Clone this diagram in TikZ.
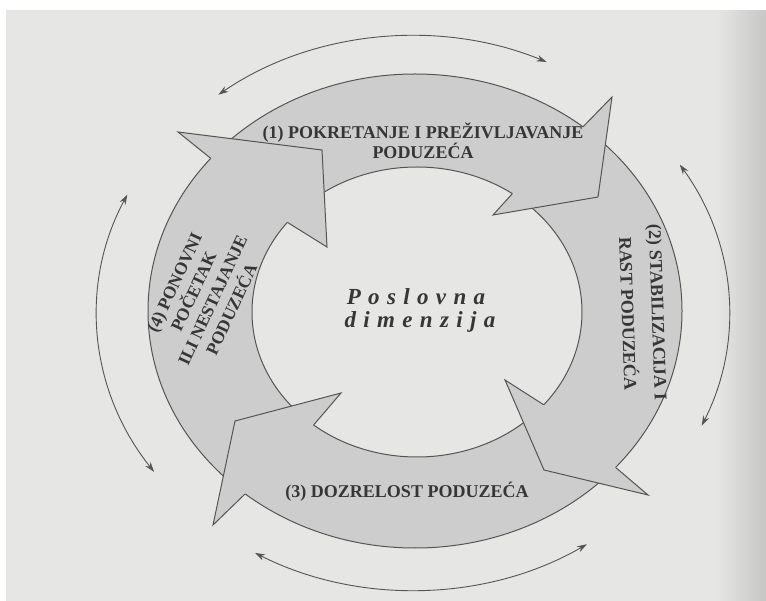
\documentclass[tikz,border=0pt]{standalone}
\usepackage{fontspec}
\setmainfont{Liberation Serif}
\usetikzlibrary{arrows.meta}
\definecolor{pagec}{HTML}{E6E6E4}
\definecolor{ringc}{HTML}{CDCDCD}
\definecolor{linec}{HTML}{555555}
\definecolor{textc}{HTML}{363636}
\definecolor{edgec}{HTML}{C6C6C6}
\begin{document}
\begin{tikzpicture}[x=1pt,y=-1pt,
  ringline/.style={draw=linec, line width=1pt},
  headline/.style={draw=linec, line width=1pt, line join=miter},
  phase/.style={text=textc, align=center, inner sep=0pt},
  cycarrow/.style={draw=linec, line width=0.9pt, {Stealth[length=10pt,width=6.5pt]}-{Stealth[length=10pt,width=6.5pt]}},
  centertext/.style={text=textc, inner sep=0pt, font=\fontsize{23}{25}\selectfont\bfseries\itshape\addfontfeature{LetterSpace=32}}
]
\useasboundingbox (0,0) rectangle (766,601);
\fill[white] (0,0) rectangle (766,601);
\fill[pagec] (6,10) rectangle (766,601);
\foreach \i in {0,...,24} {
  \pgfmathsetmacro{\pc}{\i*4}
  \fill[edgec!\pc!pagec] ({716+2*\i},10) rectangle ({718.5+2*\i},601);
}

% ring
\coordinate (oc) at (415,311);
\coordinate (ic) at (417,312);
\fill[ringc, even odd rule] (oc) ellipse [x radius=267pt, y radius=237pt] (ic) ellipse [x radius=165pt, y radius=145pt];
\draw[ringline] (oc) ellipse [x radius=267pt, y radius=237pt];
\draw[ringline] (ic) ellipse [x radius=165pt, y radius=145pt];

% head 1 (top right)
\coordinate (h1a) at ({415+267*cos(-51)},{311+237*sin(-51)});
\coordinate (h1b) at (612,97);
\coordinate (h1c) at (598,197);
\coordinate (h1d) at (493,215);
\coordinate (h1e) at ({417+165*cos(-54.7)},{312+145*sin(-54.7)});
\fill[ringc] (h1a)--(h1b)--(h1c)--(h1d)--(h1e)--cycle;
\draw[headline] (h1a)--(h1b)--(h1c)--(h1d)--(h1e);

% head 2 (bottom right)
\coordinate (h2a) at ({415+267*cos(41.3)},{311+237*sin(41.3)});
\coordinate (h2b) at (648,495);
\coordinate (h2c) at (544,470);
\coordinate (h2d) at (505,380);
\coordinate (h2e) at ({417+165*cos(39.8)},{312+145*sin(39.8)});
\fill[ringc] (h2a)--(h2b)--(h2c)--(h2d)--(h2e)--cycle;
\draw[headline] (h2a)--(h2b)--(h2c)--(h2d)--(h2e);

% head 3 (bottom left)
\coordinate (h3a) at ({415+267*cos(129.5)},{311+237*sin(129.5)});
\coordinate (h3b) at (213,525);
\coordinate (h3c) at (235,421);
\coordinate (h3d) at (341,393);
\coordinate (h3e) at ({417+165*cos(128.8)},{312+145*sin(128.8)});
\fill[ringc] (h3a)--(h3b)--(h3c)--(h3d)--(h3e)--cycle;
\draw[headline] (h3a)--(h3b)--(h3c)--(h3d)--(h3e);

% head 4 (top left)
\coordinate (h4a) at ({415+267*cos(220.1)},{311+237*sin(220.1)});
\coordinate (h4b) at (178,132);
\coordinate (h4c) at (322,150);
\coordinate (h4d) at (327,247);
\coordinate (h4e) at ({417+165*cos(218.2)},{312+145*sin(218.2)});
\fill[ringc] (h4a)--(h4b)--(h4c)--(h4d)--(h4e)--cycle;
\draw[headline] (h4a)--(h4b)--(h4c)--(h4d)--(h4e);

% outer double-headed arcs
\coordinate (atop) at ({413+316*cos(128)},{313-277*sin(128)});
\coordinate (aright) at ({413+316*cos(32.4)},{313-277*sin(32.4)});
\coordinate (abot) at ({413+316*cos(-120)},{313-277*sin(-120)});
\coordinate (aleft) at ({413+316*cos(154.7)},{313-277*sin(154.7)});
\draw[cycarrow] (atop) arc[start angle=128, end angle=65, x radius=316pt, y radius=277pt];
\draw[cycarrow] (aright) arc[start angle=32.4, end angle=-24, x radius=316pt, y radius=277pt];
\draw[cycarrow] (abot) arc[start angle=-120, end angle=-56.6, x radius=316pt, y radius=277pt];
\draw[cycarrow] (aleft) arc[start angle=154.7, end angle=215, x radius=316pt, y radius=277pt];

% labels
\node[phase, font=\fontsize{18}{19}\selectfont\bfseries] (t1) at (423,141) {(1) POKRETANJE I PREŽIVLJAVANJE\\PODUZEĆA};
\node[phase, font=\fontsize{18}{30}\selectfont\bfseries, rotate=-88] (t2) at (643,313) {(2) STABILIZACIJA I\\RAST PODUZEĆA};
\node[phase, font=\fontsize{18}{19}\selectfont\bfseries] (t3) at (407,492) {(3) DOZRELOST PODUZEĆA};
\node[phase, font=\fontsize{17.5}{21}\selectfont\bfseries, rotate=65] (t4) at (203,296) {(4) PONOVNI\\POČETAK\\ILI NESTAJANJE\\PODUZEĆA};

\node[centertext] (c1) at (416,297) {Poslovna};
\node[centertext] (c2) at (420,322) {dimenzija};
\end{tikzpicture}
\end{document}
